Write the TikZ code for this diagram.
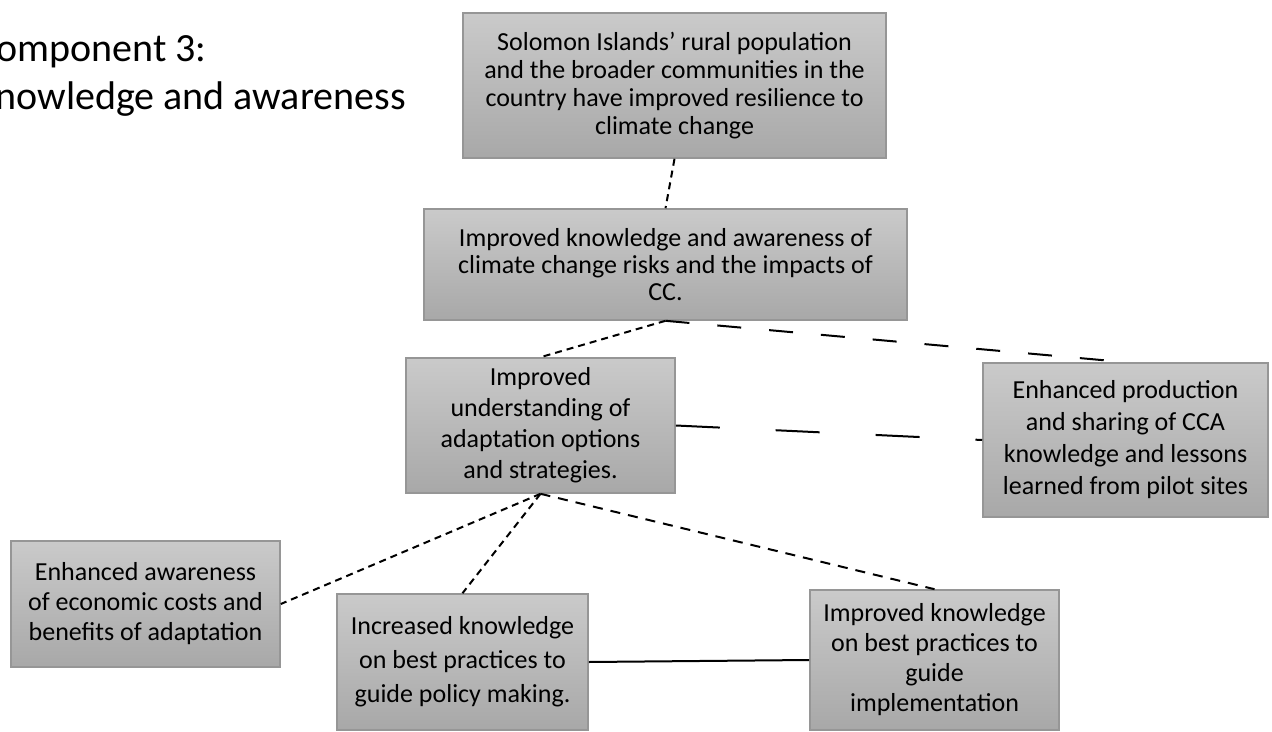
\documentclass[tikz,border=0pt]{standalone}
\usepackage{fontspec}
\setmainfont{Carlito}
\definecolor{boxtop}{RGB}{202,202,202}
\definecolor{boxbot}{RGB}{168,168,168}
\definecolor{boxedge}{RGB}{150,150,150}
\begin{document}
\begin{tikzpicture}[x=0.5pt,y=-0.5pt,
  box/.style={rectangle, draw=boxedge, line width=0.8pt, top color=boxtop,
    bottom color=boxbot, align=center, inner sep=2pt,
    font=\fontsize{13}{15.5}\selectfont},
  lead/.style={font=\fontsize{13}{#1}\selectfont},
  titletext/.style={inner sep=0pt, font=\fontsize{20}{24}\selectfont},
  link/.style={line width=1pt, black},
  shortdash/.style={link, dash pattern=on 3.5pt off 2.5pt},
  middash/.style={link, dash pattern=on 5pt off 4pt},
  longdash/.style={link, dash pattern=on 12pt off 14pt},
  widedash/.style={link, dash pattern=on 22pt off 28pt},
]
\useasboundingbox (0,0) rectangle (1272,732);

% heading, running off the left edge of the page
\node[titletext, anchor=base east] (title1) at (207,62) {Component 3:};
\node[titletext, anchor=base east] (title2) at (406,110) {Knowledge and awareness};

% outcome boxes
\node[box, lead=14, minimum width=211.5pt, minimum height=72.5pt] (goal) at (674.5,85.5)
  {Solomon Islands' rural population\\and the broader communities in the\\country have improved resilience to\\climate change};
\node[box, lead=13.5, minimum width=241.5pt, minimum height=55.5pt] (aware) at (665.5,264.5)
  {Improved knowledge and awareness of\\climate change risks and the impacts of\\CC.};
\node[box, lead=15.5, minimum width=134.5pt, minimum height=67.5pt] (under) at (540.5,425.5)
  {Improved\\understanding of\\adaptation options\\and strategies.};
\node[box, lead=16, minimum width=142.5pt, minimum height=77pt] (share) at (1125.5,440)
  {Enhanced production\\and sharing of CCA\\knowledge and lessons\\learned from pilot sites};
\node[box, lead=15, minimum width=134.5pt, minimum height=63pt] (costs) at (145.5,604)
  {Enhanced awareness\\of economic costs and\\benefits of adaptation};
\node[box, lead=17, minimum width=125.5pt, minimum height=68pt] (policy) at (462.5,662)
  {Increased knowledge\\on best practices to\\guide policy making.};
\node[box, lead=15, minimum width=124.5pt, minimum height=70pt] (impl) at (934.5,660)
  {Improved knowledge\\on best practices to\\guide\\implementation};

% connectors
\draw[shortdash] (goal.south) -- (aware.north);
\draw[shortdash] (aware.south) -- (under.north);
\draw[longdash] (aware.south) -- (share.north);
\draw[widedash] (under.east) -- (share.west);
\draw[shortdash] (under.south) -- (costs.east);
\draw[shortdash] (under.south) -- (policy.north);
\draw[middash] (under.south) -- (impl.north);
\draw[link] (policy.east) -- (impl.west);
\end{tikzpicture}
\end{document}
